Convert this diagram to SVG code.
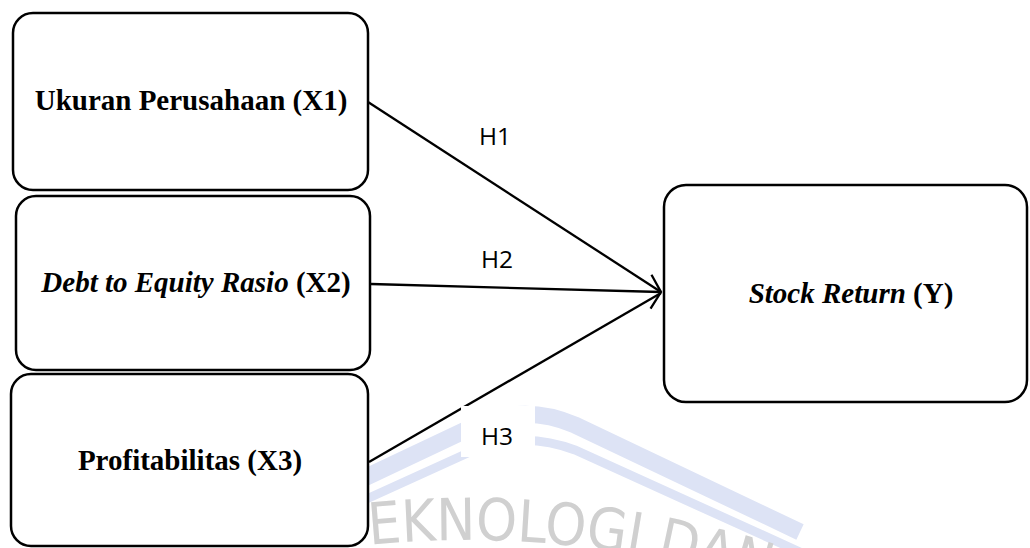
<svg xmlns="http://www.w3.org/2000/svg" width="1030" height="548" viewBox="0 0 1030 548">
  <style>
    .box { fill: #ffffff; stroke: #000000; stroke-width: 2.5; }
    .lbl { font-family: "Liberation Serif", "Times New Roman", serif; font-size: 29px; font-weight: bold; fill: #000000; }
    .it { font-style: italic; }
    .h { font-family: "Open Sans", "Liberation Sans", sans-serif; font-size: 24.5px; fill: #000000; }
    .edge { stroke: #000000; stroke-width: 2.3; fill: none; }
    .band { fill: none; stroke: #dde3f5; stroke-linecap: butt; }
    .wm { font-family: "Liberation Sans Narrow", "DejaVu Sans Condensed", "Liberation Sans", sans-serif; font-size: 58px; fill: #d0d0d0; }
  </style>
  <defs>
    <marker id="chev" markerUnits="userSpaceOnUse" viewBox="-12 -20 14 40" markerWidth="14" markerHeight="40" refX="0" refY="0" orient="auto">
      <path d="M -10,-17 L 0,0 L -10,17" fill="none" stroke="#000000" stroke-width="2.3" stroke-linejoin="miter"/>
    </marker>
    <path id="wmArc" d="M 320 551 A 1000 1000 0 0 1 840 612"/>
  </defs>
  <rect width="1030" height="548" fill="#ffffff"/>

  <g id="watermark">
    <path class="band" stroke-width="17" d="M 360 480 L 470 428 Q 522 402 575 425 L 800 532"/>
    <path class="band" stroke-width="9" d="M 360 502 L 470 452 Q 522 430 575 450 L 800 552"/>
    <text class="wm"><textPath href="#wmArc" startOffset="18">TEKNOLOGI DAN</textPath></text>
  </g>

  <g id="connectors">
    <line class="edge" x1="368" y1="102" x2="661" y2="292"/>
    <line class="edge" x1="371" y1="284" x2="661" y2="292" marker-end="url(#chev)"/>
    <line class="edge" x1="369" y1="462" x2="661" y2="293"/>
    <g id="label-h1"><text class="h" x="495" y="145" text-anchor="middle">H1</text></g>
    <g id="label-h2"><text class="h" x="497" y="268" text-anchor="middle">H2</text></g>
    <g id="label-h3">
      <rect x="461" y="406" width="74" height="51" fill="#ffffff"/>
      <text class="h" x="497" y="445" text-anchor="middle">H3</text>
    </g>
  </g>

  <g id="node-x1">
    <rect class="box" x="13" y="13" width="355" height="177" rx="20" ry="20"/>
    <text class="lbl" x="191" y="110" text-anchor="middle">Ukuran Perusahaan (X1)</text>
  </g>
  <g id="node-x2">
    <rect class="box" x="16" y="196" width="354" height="174" rx="20" ry="20"/>
    <text class="lbl" x="196" y="292" text-anchor="middle"><tspan class="it">Debt to Equity Rasio</tspan> (X2)</text>
  </g>
  <g id="node-x3">
    <rect class="box" x="11" y="374" width="357" height="172" rx="20" ry="20"/>
    <text class="lbl" x="190" y="470" text-anchor="middle">Profitabilitas (X3)</text>
  </g>
  <g id="node-y">
    <rect class="box" x="664" y="185" width="363" height="217" rx="22" ry="22"/>
    <text class="lbl" x="851" y="303" text-anchor="middle"><tspan class="it">Stock Return</tspan> (Y)</text>
  </g>
</svg>
